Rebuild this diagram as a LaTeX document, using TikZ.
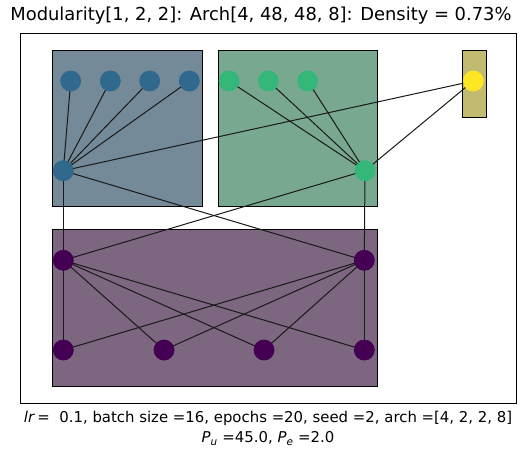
\documentclass[tikz,border=0pt]{standalone}
\usepackage{fontspec}
\setmainfont{DejaVu Sans}
\definecolor{cpur}{RGB}{68,1,84}
\definecolor{cblu}{RGB}{49,104,142}
\definecolor{cgrn}{RGB}{53,183,121}
\definecolor{cyel}{RGB}{253,231,37}
\definecolor{bblu}{RGB}{116,138,152}
\definecolor{bgrn}{RGB}{121,168,144}
\definecolor{byel}{RGB}{192,187,112}
\definecolor{bpur}{RGB}{125,102,128}
\tikzset{
  neuron/.style={circle,inner sep=0pt,minimum size=20.6pt,draw=none,fill=#1},
  module/.style={draw=black,line width=1pt,fill=#1},
  edge/.style={draw=black!90,line width=1pt}
}
\begin{document}
\begin{tikzpicture}[x=1pt,y=-1pt]
\useasboundingbox (0,0) rectangle (527,459);
% frame
\draw[line width=1pt] (20,33) rectangle (516,403);
% modules
\path[module=bblu] (52.3,50.3) rectangle (202.7,206.8);
\path[module=bgrn] (218.3,50.3) rectangle (377.3,206.8);
\path[module=byel] (462.3,50.3) rectangle (486.7,117.3);
\path[module=bpur] (52.3,229.3) rectangle (377.7,386);
% nodes
\node[neuron=cblu] (a1) at (70.7,81) {};
\node[neuron=cblu] (a2) at (110.3,81) {};
\node[neuron=cblu] (a3) at (149.7,81) {};
\node[neuron=cblu] (a4) at (189.3,81) {};
\node[neuron=cgrn] (b1) at (229,81) {};
\node[neuron=cgrn] (b2) at (268.3,81) {};
\node[neuron=cgrn] (b3) at (307.7,81) {};
\node[neuron=cyel] (y) at (473.3,81) {};
\node[neuron=cblu] (h1) at (63.3,170.7) {};
\node[neuron=cgrn] (h2) at (365,170.7) {};
\node[neuron=cpur] (p1) at (63.3,260.3) {};
\node[neuron=cpur] (p2) at (364.3,260.3) {};
\node[neuron=cpur] (q1) at (63.3,350) {};
\node[neuron=cpur] (q2) at (164,350) {};
\node[neuron=cpur] (q3) at (264,350) {};
\node[neuron=cpur] (q4) at (364.3,350) {};
% edges
\foreach \s in {a1,a2,a3,a4} \draw[edge] (\s.center) -- (h1.center);
\foreach \s in {b1,b2,b3} \draw[edge] (\s.center) -- (h2.center);
\draw[edge] (h1.center) -- (y.center);
\draw[edge] (h2.center) -- (y.center);
\draw[edge] (h1.center) -- (p1.center);
\draw[edge] (h1.center) -- (p2.center);
\draw[edge] (h2.center) -- (p2.center);
\draw[edge] (h2.center) -- (p1.center);
\foreach \t in {q1,q2,q3,q4} {\draw[edge] (p1.center) -- (\t.center); \draw[edge] (p2.center) -- (\t.center);}
% redraw nodes on top
\foreach \n/\c in {a1/cblu,a2/cblu,a3/cblu,a4/cblu,b1/cgrn,b2/cgrn,b3/cgrn,y/cyel,h1/cblu,h2/cgrn,p1/cpur,p2/cpur,q1/cpur,q2/cpur,q3/cpur,q4/cpur}
  \fill[\c] (\n.center) circle (10.3pt);
% texts
\node[font=\fontsize{17.9}{21}\selectfont,inner sep=0pt] (title) at (261,16) {Modularity[1, 2, 2]: Arch[4, 48, 48, 8]: Density = 0.73\%};
\node[font=\fontsize{14.9}{18}\selectfont,inner sep=0pt] (lab1) at (268,418) {\textit{lr}\,=\ \ 0.1, batch size =16, epochs =20, seed =2, arch =[4, 2, 2, 8]};
\node[font=\fontsize{14.9}{18}\selectfont,inner sep=0pt] (lab2) at (268,438.5) {\textit{P}\textsubscript{\textit{u}} =45.0, \textit{P}\textsubscript{\textit{e}} =2.0};
\end{tikzpicture}
\end{document}
